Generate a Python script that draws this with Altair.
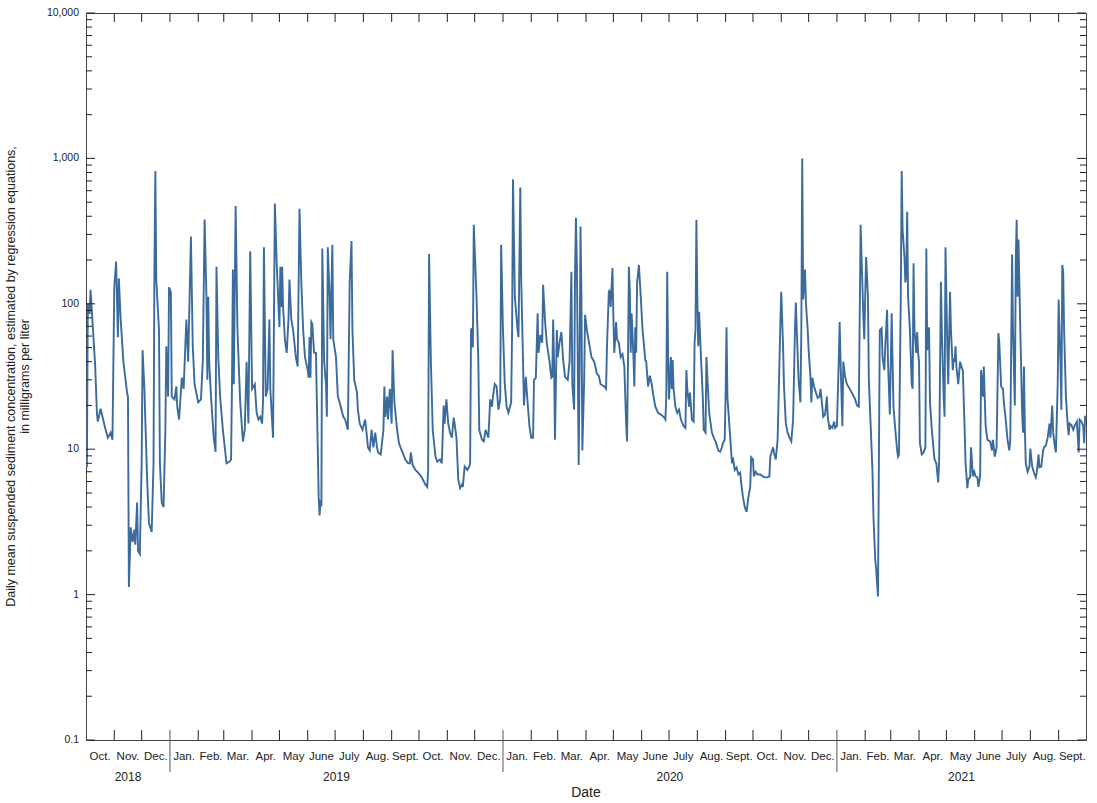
import altair as alt
import pandas as pd

# ---- daily mean suspended sediment concentration (mg/L) ----
# day offsets counted from 2018-10-01
DAY_OFFSETS = [
    0, 1, 2, 3, 4, 5, 10, 12, 13, 16, 21, 24, 27, 29, 31, 33, 35, 36, 38, 41,
    45, 46, 47, 49, 51, 53, 54, 56, 57, 59, 61, 62, 64, 67, 69, 72, 74, 75, 76, 77,
    80, 81, 83, 85, 87, 88, 90, 91, 93, 94, 97, 99, 100, 102, 105, 107, 110, 112, 115, 117,
    119, 123, 126, 128, 130, 132, 133, 134, 135, 137, 140, 142, 143, 145, 147, 150, 154, 157, 159, 160,
    161, 162, 164, 166, 169, 172, 174, 176, 178, 180, 182, 185, 187, 189, 191, 193, 194, 195, 197, 199,
    201, 202, 205, 207, 209, 212, 213, 214, 215, 216, 218, 220, 222, 223, 225, 227, 230, 232, 234, 236,
    238, 240, 243, 244, 245, 246, 247, 248, 250, 252, 254, 255, 256, 257, 258, 259, 261, 263, 264, 265,
    267, 268, 270, 271, 274, 276, 278, 280, 282, 284, 286, 287, 289, 291, 292, 294, 297, 298, 300, 303,
    306, 308, 309, 311, 313, 315, 317, 319, 320, 323, 326, 327, 328, 330, 331, 333, 335, 336, 338, 341,
    343, 346, 350, 353, 355, 356, 358, 361, 364, 368, 372, 374, 375, 376, 378, 380, 383, 385, 388, 390,
    392, 393, 395, 397, 399, 401, 403, 404, 406, 408, 410, 412, 413, 415, 418, 420, 421, 422, 423, 424,
    425, 428, 430, 431, 434, 436, 438, 441, 443, 445, 446, 448, 450, 452, 454, 455, 457, 459, 461, 463,
    466, 467, 468, 470, 473, 474, 476, 477, 479, 480, 482, 484, 486, 488, 490, 491, 493, 495, 496, 498,
    500, 501, 503, 505, 508, 510, 511, 512, 513, 514, 516, 517, 519, 521, 523, 525, 528, 530, 532, 533,
    535, 536, 537, 538, 540, 541, 542, 543, 544, 546, 547, 549, 552, 554, 557, 560, 562, 564, 568, 570,
    571, 573, 574, 575, 577, 578, 579, 581, 582, 584, 586, 588, 590, 592, 593, 594, 595, 596, 597, 598,
    600, 601, 602, 603, 604, 606, 608, 610, 613, 614, 616, 618, 620, 622, 624, 627, 630, 633, 635, 636,
    637, 638, 639, 641, 642, 643, 644, 646, 648, 650, 652, 655, 657, 658, 659, 661, 662, 664, 666, 667,
    668, 669, 670, 671, 672, 674, 676, 677, 679, 680, 681, 683, 686, 688, 690, 693, 695, 697, 698, 700,
    701, 702, 703, 705, 707, 708, 709, 711, 713, 715, 717, 718, 720, 722, 724, 726, 728, 729, 731, 732,
    734, 736, 739, 742, 744, 747, 749, 750, 753, 754, 756, 758, 759, 761, 762, 764, 765, 767, 769, 771,
    773, 775, 777, 778, 779, 781, 783, 784, 785, 786, 788, 789, 791, 792, 794, 795, 796, 798, 800, 802,
    804, 805, 807, 808, 810, 812, 813, 815, 816, 818, 820, 821, 823, 825, 826, 827, 829, 830, 832, 834,
    837, 840, 843, 845, 847, 849, 850, 852, 853, 854, 855, 857, 858, 860, 862, 863, 865, 866, 868, 869,
    870, 872, 873, 875, 876, 878, 879, 881, 883, 885, 887, 889, 890, 891, 893, 894, 895, 897, 898, 899,
    900, 901, 903, 905, 906, 907, 908, 910, 911, 912, 913, 914, 916, 918, 920, 921, 922, 924, 925, 927,
    929, 930, 932, 934, 935, 937, 938, 940, 941, 942, 944, 945, 947, 948, 950, 951, 952, 953, 954, 956,
    958, 960, 961, 963, 964, 966, 967, 969, 970, 972, 973, 975, 977, 978, 980, 981, 983, 984, 986, 988,
    991, 993, 994, 996, 998, 1000, 1001, 1003, 1005, 1006, 1008, 1010, 1012, 1013, 1015, 1016, 1018, 1019, 1020, 1021,
    1022, 1024, 1026, 1027, 1028, 1029, 1030, 1032, 1034, 1035, 1037, 1039, 1041, 1042, 1044, 1045, 1047, 1049, 1050, 1052,
    1054, 1056, 1057, 1059, 1060, 1062, 1063, 1065, 1066, 1068, 1069, 1070, 1071, 1072, 1074, 1076, 1077, 1078, 1080, 1082,
    1084, 1086, 1088, 1089, 1091, 1093, 1094, 1095,
]
SSC_VALUES = [
    8, 7.5, 100, 95, 85, 125, 38, 17.5, 15.5, 19, 14, 12, 13, 11.6, 130, 195, 59, 150, 78, 40,
    24.5, 23, 1.13, 2.9, 2.3, 2.8, 2.2, 4.3, 2.0, 1.9, 8, 48, 26, 6.2, 3.1, 2.7, 8, 180, 820, 147,
    66, 8, 4.3, 4.0, 13.6, 51, 23, 130, 120, 23, 22, 27, 19.6, 16, 31, 26, 78, 40, 290, 51,
    28, 21, 22, 40, 380, 112, 30, 112, 40, 23, 12, 9.6, 180, 43, 23, 13.6, 8, 8.2, 8.5, 28,
    172, 28, 470, 66, 21, 11.3, 13.6, 40, 15, 230, 26, 28, 17.8, 16, 16.7, 15, 21, 245, 23, 26,
    78, 26, 12, 490, 190, 69, 180, 95, 180, 95, 57, 46, 81, 147, 78, 66, 43, 37, 450, 140,
    66, 43, 35, 31, 59, 31, 75, 73, 46, 46, 10.3, 4.7, 3.5, 4.3, 4.2, 240, 40, 28, 16.7, 245,
    112, 57, 255, 57, 43, 23, 21, 18.7, 16.7, 16, 14.4, 13.6, 140, 270, 66, 30, 24.5, 18.7, 15, 13.6,
    16, 12, 10.3, 9.8, 13.6, 10.3, 13, 10.3, 9.5, 9.2, 13.6, 27, 16.7, 23, 16, 26, 15, 48, 21, 13.6,
    11, 9.8, 8.5, 8, 8, 9.5, 7.8, 7.2, 6.9, 6.4, 5.7, 5.5, 7.2, 220, 40, 13.6, 8.9, 8.2, 8.5, 8,
    20, 15, 22, 15, 13, 12, 16.5, 15, 12, 6.2, 5.4, 5.7, 5.5, 7.6, 7.2, 7.6, 8, 66, 68, 50,
    350, 112, 40, 13.6, 11.6, 11.3, 13.6, 12, 22, 19.6, 23, 28, 27, 18.7, 22, 255, 66, 28, 19.6, 17.8,
    21, 66, 720, 112, 66, 59, 630, 147, 40, 20, 31.5, 21, 14.4, 12, 12, 30, 31, 86, 46, 61,
    54, 135, 78, 54, 40, 31, 31.5, 78, 40, 11.6, 66, 43, 54, 64, 41, 31.5, 30, 40, 166, 28,
    18.7, 165, 390, 190, 7.8, 40, 340, 112, 9.8, 30, 84, 66, 51, 43, 40, 33, 32, 28, 27, 26,
    51, 120, 125, 95, 176, 81, 46, 75, 57, 54, 43, 45, 37, 15, 11.3, 40, 180, 125, 46, 86,
    43, 27, 69, 46, 140, 185, 112, 66, 41, 40, 27, 32, 28, 23, 19.6, 17.8, 17.3, 16.7, 16, 23,
    166, 43, 22, 43, 26, 41, 26, 19.6, 17.8, 18.7, 16, 14.4, 14, 35, 26, 19.6, 24.5, 16, 15.5, 54,
    66, 379, 112, 51, 88, 43, 23, 13.6, 13, 43, 31.5, 17.8, 13, 12, 11.3, 9.8, 9.6, 10.3, 11, 11.6,
    23, 69, 23, 15, 9.8, 8, 8.8, 7.2, 7.5, 6.7, 6.9, 5.9, 4.7, 4.0, 3.7, 4.7, 5.5, 8.8, 8.5, 6.5,
    7.0, 6.7, 6.7, 6.5, 6.4, 6.4, 6.5, 8.9, 10.3, 9.5, 8.5, 11.6, 21, 73, 121, 51, 27, 15, 13, 12,
    11.3, 16, 66, 102, 66, 30, 21, 66, 1000, 107, 172, 102, 66, 48, 31.5, 21, 31, 27, 24.5, 22.5,
    23, 26, 19.6, 16.7, 17.3, 23, 16.7, 13.6, 14.4, 14, 15.5, 14, 14.4, 40, 75, 40, 14.4, 40, 31.5, 28,
    26, 24, 22, 20, 19.6, 350, 210, 81, 57, 112, 210, 112, 30, 14.5, 7.0, 3.5, 1.74, 1.5, 0.97, 8,
    66, 68, 43, 35, 51, 91, 40, 17.3, 86, 19.6, 13.6, 9.8, 8.9, 9.2, 112, 820, 324, 210, 140, 155,
    430, 112, 66, 28, 26, 190, 66, 46, 64, 46, 40, 11, 9.2, 9.5, 10.3, 240, 48, 69, 21, 13.6,
    9.8, 8.5, 8, 5.9, 8, 142, 66, 23, 16.7, 245, 51, 28, 121, 66, 35, 42, 40, 51, 37, 28,
    40, 36, 35, 13.6, 8, 5.4, 6.2, 6.4, 10.3, 6.5, 7.2, 6.5, 6.4, 5.5, 6.5, 35, 23, 37, 14.4, 11.6,
    11.3, 9.8, 11.6, 8.9, 10.3, 63, 54, 27, 26, 21, 16, 11.6, 9.8, 11.6, 218, 66, 20, 190, 379, 112,
    277, 66, 17.8, 13, 37, 13.6, 8, 7.0, 7.6, 10.1, 7.6, 6.9, 6.4, 6.9, 9.2, 7.5, 7.6, 9.8, 10.3, 10.6,
    12, 15, 12, 20, 13, 10.3, 9.5, 28, 107, 40, 18.7, 185, 165, 66, 23, 14.4, 12.5, 15, 14.7, 13.6,
    14.7, 15.5, 9.5, 16, 15.5, 14.4, 11, 17,
]

MONTH_ABBR = {1: "Jan.", 2: "Feb.", 3: "Mar.", 4: "Apr.", 5: "May", 6: "June",
              7: "July", 8: "Aug.", 9: "Sept.", 10: "Oct.", 11: "Nov.", 12: "Dec."}
YEAR_LABELS = ["2018", "2019", "2020", "2021"]
YEAR_SPANS = [("2018-10-01", "2019-01-01"), ("2019-01-01", "2020-01-01"),
              ("2020-01-01", "2021-01-01"), ("2021-01-01", "2021-10-01")]
Y_MAJOR = [0.1, 1, 10, 100, 1000, 10000]
Y_MAJOR_LABELS = ["0.1", "1", "10", "100", "1,000", "10,000"]
Y_MINOR = [k * 10.0 ** e for e in range(-1, 4) for k in range(2, 10)]
Y_TITLE = ("Daily mean suspended sediment concentration, estimated by regression equations,\n"
           "in milligrams per liter")
X_TITLE = "Date"

FMT = "%Y-%m-%dT%H:%M:%SZ"
START = pd.Timestamp("2018-10-01")
series = pd.DataFrame({
    "date": [(START + pd.Timedelta(days=d)).strftime(FMT) for d in DAY_OFFSETS],
    "ssc": SSC_VALUES,
})

month_starts = pd.date_range("2018-10-01", "2021-10-01", freq="MS")
month_labels = pd.DataFrame({
    "mid": [(a + (b - a) / 2).strftime(FMT) for a, b in zip(month_starts[:-1], month_starts[1:])],
    "label": [MONTH_ABBR[a.month] for a in month_starts[:-1]],
})
inner = month_starts[1:-1]
all_bounds = pd.DataFrame({"d": [m.strftime(FMT) for m in inner]})
month_bounds = pd.DataFrame({"d": [m.strftime(FMT) for m in inner if m.month != 1]})
year_bounds = pd.DataFrame({"d": [m.strftime(FMT) for m in inner if m.month == 1]})
year_labels = pd.DataFrame({
    "mid": [(pd.Timestamp(a) + (pd.Timestamp(b) - pd.Timestamp(a)) / 2).strftime(FMT) for a, b in YEAR_SPANS],
    "label": YEAR_LABELS,
})
ymaj = pd.DataFrame({"v": Y_MAJOR, "label": Y_MAJOR_LABELS})
ymin = pd.DataFrame({"v": Y_MINOR})

W, H = 1000, 727
LINE = "#3b6a9d"
INK = "#222222"
FONT = "Liberation Sans"

xscale = alt.Scale(type="utc", domain=[alt.DateTime(year=2018, month=10, date=1, utc=True),
                                       alt.DateTime(year=2021, month=10, date=1, utc=True)])
yscale = alt.Scale(type="log", domain=[0.1, 10000])

line = alt.Chart(series).mark_line(color=LINE, strokeWidth=1.9, clip=True).encode(
    x=alt.X("date:T", scale=xscale, axis=None),
    y=alt.Y("ssc:Q", scale=yscale, axis=None),
)

def yticks(df, x0, x1):
    return alt.Chart(df).mark_rule(color=INK, strokeWidth=1).encode(
        y=alt.Y("v:Q", scale=yscale, axis=None), x=alt.value(x0), x2=alt.value(x1))

def xticks(df, y0, y1, color=INK):
    return alt.Chart(df).mark_rule(color=color, strokeWidth=1).encode(
        x=alt.X("d:T", scale=xscale, axis=None), y=alt.value(y0), y2=alt.value(y1))

ylabels = alt.Chart(ymaj).mark_text(
    font=FONT, fontSize=10.5, color=INK, align="right", baseline="middle").encode(
    y=alt.Y("v:Q", scale=yscale, axis=None), x=alt.value(-7), text="label:N")

month_text = alt.Chart(month_labels).mark_text(
    font=FONT, fontSize=11.5, color=INK, baseline="middle", align="center").encode(
    x=alt.X("mid:T", scale=xscale, axis=None), y=alt.value(H + 17), text="label:N")
year_text = alt.Chart(year_labels).mark_text(
    font=FONT, fontSize=12, color=INK, baseline="middle", align="center").encode(
    x=alt.X("mid:T", scale=xscale, axis=None), y=alt.value(H + 37), text="label:N")

y_title = alt.Chart(pd.DataFrame({"t": [Y_TITLE]})).mark_text(
    font=FONT, fontSize=12.5, color=INK, angle=270, align="center", baseline="middle",
    lineBreak="\n", lineHeight=14).encode(
    x=alt.value(-75), y=alt.value(H / 2), text="t:N")
x_title = alt.Chart(pd.DataFrame({"t": [X_TITLE]})).mark_text(
    font=FONT, fontSize=14, color=INK, align="center", baseline="middle").encode(
    x=alt.value(W / 2), y=alt.value(H + 53), text="t:N")

chart = alt.layer(
    line,
    yticks(ymaj, 0, 9), yticks(ymin, 0, 6),
    yticks(ymaj, W, W - 9), yticks(ymin, W, W - 6),
    xticks(all_bounds, 0, 9),
    xticks(month_bounds, H, H - 10),
    xticks(year_bounds, H - 10, H + 32, "#555555"),
    ylabels, month_text, year_text, y_title, x_title,
).properties(
    width=W, height=H,
    autosize=alt.AutoSizeParams(type="none"),
    padding={"left": 86, "top": 13, "right": 11, "bottom": 63},
).configure_view(stroke="#444444", strokeWidth=1)

chart.save("out.html", embed_options={"renderer": "svg", "actions": False})
